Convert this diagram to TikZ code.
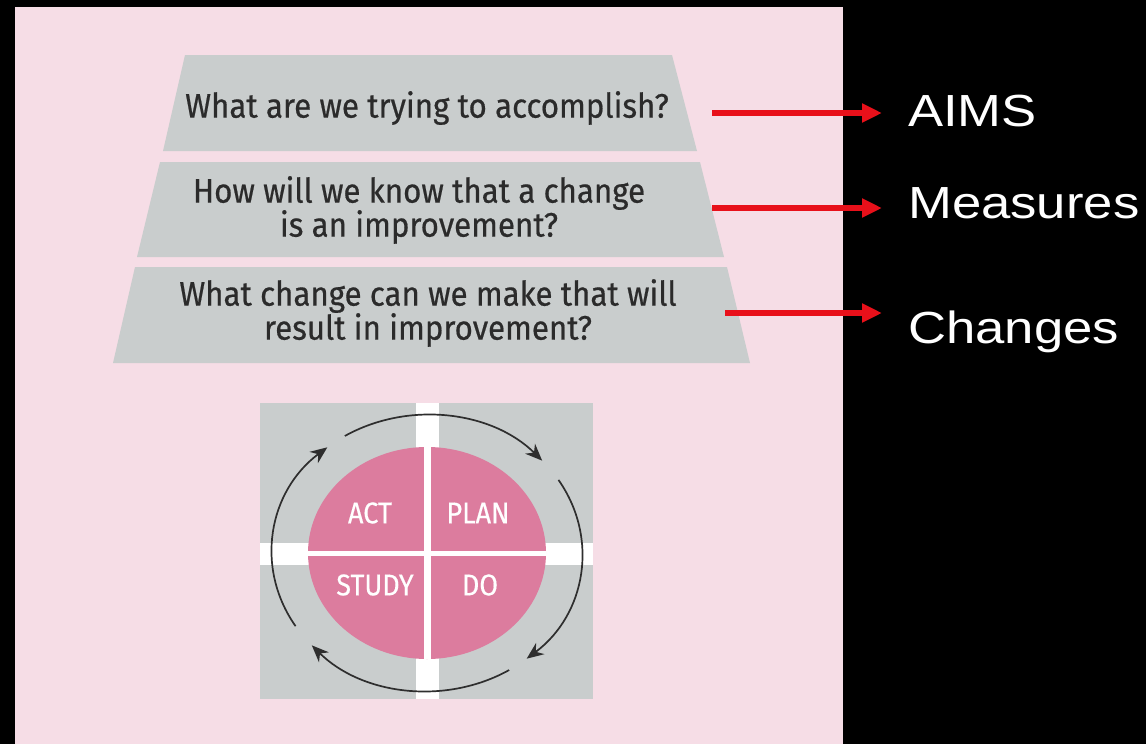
\documentclass[tikz,border=0pt]{standalone}
\usepackage{fontspec}
\usetikzlibrary{arrows.meta}
\setmainfont{Liberation Sans}
\newfontfamily\qfont[FakeStretch=0.92,FakeBold=0.5]{Fira Sans}
\newfontfamily\pfont[FakeStretch=0.9,FakeBold=0.4]{Fira Sans}
\newfontfamily\lblfont[FakeStretch=1.17]{Liberation Sans}
\definecolor{bgpink}{HTML}{F6DDE6}
\definecolor{trgray}{HTML}{C9CDCD}
\definecolor{txtdark}{HTML}{2B2B2B}
\definecolor{pdcapink}{HTML}{DC7C9E}
\definecolor{arrred}{HTML}{E8101A}
\definecolor{cyc}{HTML}{2E2E2E}
\tikzset{
  question/.style={font=\qfont\fontsize{34}{34}\selectfont, text=txtdark, align=center, inner sep=0pt},
  pdcatext/.style={font=\pfont\fontsize{30}{30}\selectfont, text=white, inner sep=0pt},
  label/.style={font=\lblfont\fontsize{45}{48}\selectfont, text=white, anchor=west, inner xsep=26pt, inner ysep=0pt},
  redarrow/.style={draw=arrred, line width=6pt, -{Triangle[length=20pt,width=18pt]}},
  cycarrow/.style={draw=cyc, line width=1.7pt, -{Stealth[length=17pt,width=14pt]}}
}
\begin{document}
\begin{tikzpicture}[x=1pt,y=-1pt]
\useasboundingbox (0,0) rectangle (1146,744);
\fill[black] (0,0) rectangle (1146,744);
\fill[bgpink] (15,7) rectangle (843,744);
% trapezoids
\fill[trgray] (185,55) -- (672,55) -- (697,151) -- (163,151) -- cycle;
\fill[trgray] (160,162) -- (700,162) -- (724,257) -- (137,257) -- cycle;
\fill[trgray] (135,267) -- (727,267) -- (750,363) -- (113,363) -- cycle;
\node[question] (q1) at (427,108) {What are we trying to accomplish?};
\node[question] (q2) at (419,210) {How will we know that a change\\is an improvement?};
\node[question] (q3) at (428,313) {What change can we make that will\\result in improvement?};
% labels and arrows
\node[label] (aims) at (882,111) {AIMS};
\node[label] (meas) at (882,203) {Measures};
\node[label] (chg) at (882,332) {Changes};
\coordinate (s1) at (712,113);
\coordinate (s2) at (712,208);
\coordinate (s3) at (725,313);
\draw[redarrow] (s1) -- (s1 -| aims.west);
\draw[redarrow] (s2) -- (s2 -| meas.west);
\draw[redarrow] (s3) -- (s3 -| chg.west);
% PDCA
\coordinate (c) at (427,553);
\fill[trgray] (260,403) rectangle (593,699);
\fill[white] (416,403) rectangle (439,699);
\fill[white] (260,543) rectangle (593,565);
\fill[pdcapink] (c) ellipse [x radius=119, y radius=106];
\fill[white] (423.5,447) rectangle (430.5,659);
\fill[white] (308,550.5) rectangle (546,555.5);
\node[pdcatext] (act) at (370,513) {ACT};
\node[pdcatext] (plan) at (478,513) {PLAN};
\node[pdcatext] (study) at (375,585) {STUDY};
\node[pdcatext] (do) at (480,585) {DO};
\draw[cycarrow] (c) ++(-122:155 and 138) arc[start angle=-122, end angle=-42, x radius=155, y radius=138];
\draw[cycarrow] (c) ++(-32:155 and 138) arc[start angle=-32, end angle=50, x radius=155, y radius=138];
\draw[cycarrow] (c) ++(58:155 and 138) arc[start angle=58, end angle=138, x radius=155, y radius=138];
\draw[cycarrow] (c) ++(148:155 and 138) arc[start angle=148, end angle=230, x radius=155, y radius=138];
\end{tikzpicture}
\end{document}
